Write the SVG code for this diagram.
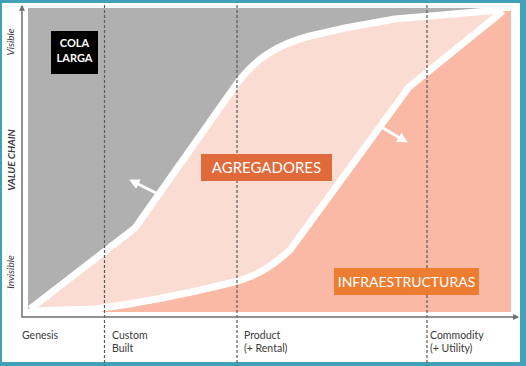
<svg xmlns="http://www.w3.org/2000/svg" width="526" height="366" viewBox="0 0 526 366">
<defs>
<style>
.ax{fill:none;stroke:#6e6e6e;stroke-width:1.5}
.dash{fill:none;stroke:#5a5a5a;stroke-width:1.2;stroke-dasharray:3,2}
.wl{fill:none;stroke:#ffffff;stroke-width:7;stroke-linejoin:round;stroke-linecap:butt}
.arr{fill:none;stroke:#ffffff;stroke-width:3}
.lbl{font-family:Lato,"Liberation Sans",sans-serif;font-size:10.5px;fill:#3a3a3a}
.ylbl{font-family:Lato,"Liberation Sans",sans-serif;font-size:10px;font-style:italic;fill:#3a3a3a}
.box{font-family:Lato,"Liberation Sans",sans-serif;fill:#ffffff;text-anchor:middle}
</style>
<marker id="ah" viewBox="0 0 10 10" refX="8" refY="5" markerWidth="6" markerHeight="6" orient="auto" markerUnits="userSpaceOnUse">
<path d="M0,0 L10,5 L0,10 Z" fill="#6e6e6e"/>
</marker>
<marker id="wh" viewBox="0 0 10 10" refX="7" refY="5" markerWidth="3.5" markerHeight="3.5" orient="auto">
<path d="M0,0 L10,5 L0,10 Z" fill="#ffffff"/>
</marker>
</defs>
<rect x="0" y="0" width="526" height="366" fill="#42a1b8"/>
<rect x="2" y="3" width="518" height="359" fill="#ffffff"/>
<g id="regions">
<path id="gray" d="M28,8 L500,8 L500,10 L395,19 L345,28 L310,36 C275,45 255,60 238,82 L135,228 L30,309 L28,309 Z" fill="#b0b0b0"/>
<path id="lightpink" d="M30,309 L135,228 L238,82 C255,60 275,45 310,36 L345,28 L395,19 L500,10 L503,11 L409,87 L290,250 C270,268 255,277 230,283 C190,293 140,303 95,309 L30,311 Z" fill="#fadcd3"/>
<path id="salmon" d="M30,311 L95,309 C140,303 190,293 230,283 C255,277 270,268 290,250 L409,87 L503,11 L511,11 L511,312 L30,312 Z" fill="#f9b9a4"/>
</g>
<g id="connectors">
<path class="wl" d="M30,309 L135,228 L238,82 C255,60 275,45 310,36 L345,28 L395,19 L500,10"/>
<path class="wl" d="M30,311 L95,309 C140,303 190,293 230,283 C255,277 270,268 290,250 L409,87 L503,11"/>
<line class="arr" x1="156" y1="193" x2="132" y2="181" marker-end="url(#wh)"/>
<line class="arr" x1="383" y1="128" x2="405" y2="141" marker-end="url(#wh)"/>
<line class="dash" x1="104.5" y1="5" x2="104.5" y2="366"/>
<line class="dash" x1="237" y1="5" x2="237" y2="366"/>
<line class="dash" x1="427" y1="5" x2="427" y2="366"/>
<line class="ax" x1="22" y1="317" x2="22" y2="6" marker-end="url(#ah)"/>
<line class="ax" x1="21.3" y1="317" x2="518" y2="317" marker-end="url(#ah)"/>
</g>
<g id="cola-larga">
<rect x="51" y="31" width="47" height="43" fill="#000000"/>
<text class="box" x="74.5" y="47" font-size="11" font-weight="bold">COLA</text>
<text class="box" x="74.5" y="62" font-size="11" font-weight="bold">LARGA</text>
</g>
<g id="agregadores">
<rect x="201" y="154" width="131" height="27" fill="#e06a3a"/>
<text class="box" x="266.5" y="173" font-size="15">AGREGADORES</text>
</g>
<g id="infraestructuras">
<rect x="334" y="268" width="145" height="27" fill="#ed7d31"/>
<text class="box" x="406.5" y="287" font-size="14">INFRAESTRUCTURAS</text>
</g>
<g id="x-labels">
<text class="lbl" x="22" y="339">Genesis</text>
<text class="lbl" x="112" y="339">Custom</text>
<text class="lbl" x="112" y="352">Built</text>
<text class="lbl" x="244" y="339">Product</text>
<text class="lbl" x="244" y="352">(+ Rental)</text>
<text class="lbl" x="430" y="339">Commodity</text>
<text class="lbl" x="430" y="352">(+ Utility)</text>
</g>
<g id="y-labels">
<text class="ylbl" transform="translate(14,42) rotate(-90)" text-anchor="middle">Visible</text>
<text class="ylbl" transform="translate(14.5,160) rotate(-90)" text-anchor="middle" font-weight="bold" font-size="9.5">VALUE CHAIN</text>
<text class="ylbl" transform="translate(14,272) rotate(-90)" text-anchor="middle">Invisible</text>
</g>
</svg>
